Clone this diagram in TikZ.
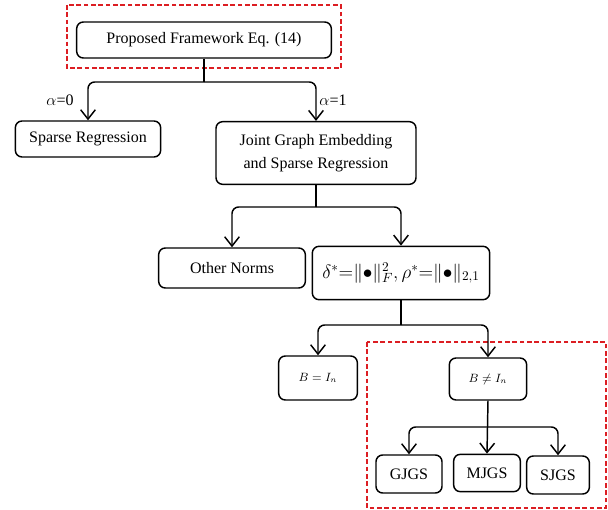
\documentclass[tikz,border=0pt]{standalone}
\usepackage{fontspec}
\setmainfont{Liberation Serif}
\usetikzlibrary{arrows.meta}
\definecolor{boxred}{RGB}{220,30,35}
\tikzset{
    blk/.style={draw, rounded corners=5pt, line width=1.1pt, inner sep=0pt, align=center,
        font=\fontsize{12}{17}\selectfont},
    arr/.style={line width=1.1pt, rounded corners=5pt, -{Straight Barb[length=7pt, width=11pt, line width=1.1pt]}},
    redbox/.style={boxred, line width=1.1pt, dash pattern=on 3.5pt off 2pt}
}
\begin{document}
\begin{tikzpicture}[x=0.75pt, y=-0.75pt]
    \useasboundingbox (0,0) rectangle (608,510);

    % Highlight frames
    \draw[redbox] (67,5) rectangle (341,68);
    \draw[redbox] (367,342) rectangle (606,508);

    % First level
    \node[blk, minimum width=191pt, minimum height=27pt] (frame) at (204,40) {Proposed Framework Eq. (14)};
    \node[blk, minimum width=109pt, minimum height=27pt] (sparse) at (88,139) {Sparse Regression};
    \node[blk, minimum width=150pt, minimum height=47pt] (joint) at (316,153) {Joint Graph Embedding\\and Sparse Regression};
    \coordinate (s1) at (204,82);
    \draw[line width=1.1pt] (frame.south) -- (s1);
    \draw[arr] (s1) -| (sparse.north);
    \draw[arr] (s1) -| (joint.north);
    \node[font=\fontsize{12}{14}\selectfont] (a0) at (60,100) {$\alpha$=0};
    \node[font=\fontsize{12}{14}\selectfont] (a1) at (333,100) {$\alpha$=1};

    % Second level
    \node[blk, minimum width=110pt, minimum height=30pt] (other) at (232,268) {Other Norms};
    \node[blk, minimum width=133pt, minimum height=40pt, font=\fontsize{14}{16}\selectfont] (norms) at (401,273)
        {$\delta^{*}{=}\|{\bullet}\|_F^2, \rho^{*}{=}\|{\bullet}\|_{2,1}$};
    \coordinate (s2) at (316,207);
    \draw[line width=1.1pt] (joint.south) -- (s2);
    \draw[arr] (s2) -| (other.north);
    \draw[arr] (s2) -| (norms.north);

    % Third level
    \node[blk, minimum width=59pt, minimum height=33pt, font=\small] (beq) at (318,378) {$B = I_n$};
    \node[blk, minimum width=58pt, minimum height=31.5pt, font=\small] (bneq) at (488,379) {$B \neq I_n$};
    \coordinate (s3) at (401,325);
    \draw[line width=1.1pt] (norms.south) -- (s3);
    \draw[arr] (s3) -| (beq.north);
    \draw[arr] (s3) -| (bneq.north);

    % Variants
    \node[blk, minimum width=49.5pt, minimum height=28.5pt] (gjgs) at (409,474) {GJGS};
    \node[blk, minimum width=50pt, minimum height=28pt] (mjgs) at (487,473) {MJGS};
    \node[blk, minimum width=47pt, minimum height=28.5pt] (sjgs) at (558,475) {SJGS};
    \coordinate (s4) at (488,427);
    \draw[arr] (bneq.south) -- (mjgs.north);
    \draw[arr] (s4) -| (gjgs.north);
    \draw[arr] (s4) -| (sjgs.north);
\end{tikzpicture}
\end{document}
